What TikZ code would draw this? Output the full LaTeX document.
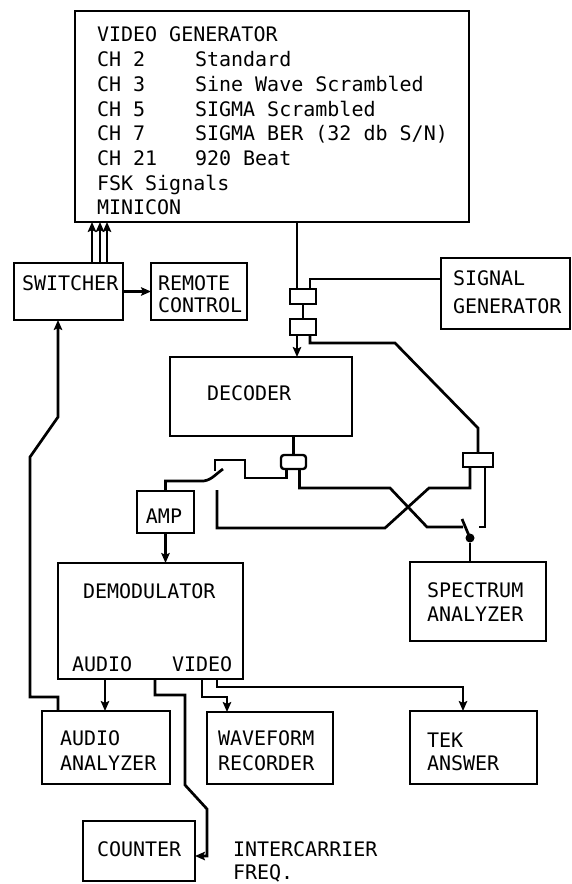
\documentclass[tikz,border=0pt]{standalone}
\usepackage{fontspec}
\setmonofont{DejaVu Sans Mono}
\usetikzlibrary{arrows.meta}

\begin{document}
\begin{tikzpicture}[
      x=1pt,
      y=-1pt,
      line width=2.7pt,
      >={Stealth[length=10pt,width=8.5pt,inset=2pt]},
      every node/.style={font=\ttfamily\fontsize{20}{24}\selectfont, inner sep=0pt, outer sep=0pt},
      unit/.style={draw, anchor=north west},
      coupler/.style={draw, anchor=north west, line width=2.4pt},
      txt/.style={anchor=west, align=left}
    ]

    \useasboundingbox (0,0) rectangle (572,884);

    % --- 1. boxes ---
    \node[unit, minimum width=394, minimum height=211] (vgen) at (75,11) {};
    \node[unit, minimum width=109, minimum height=57] (switcher) at (14,263) {};
    \node[unit, minimum width=96, minimum height=57] (remote) at (151,263) {};
    \node[unit, minimum width=129, minimum height=71] (siggen) at (441,258) {};
    \node[unit, minimum width=182, minimum height=79] (decoder) at (170,357) {};
    \node[unit, minimum width=57, minimum height=42] (amp) at (137,491) {};
    \node[unit, minimum width=185, minimum height=116] (demod) at (58,563) {};
    \node[unit, minimum width=136, minimum height=79] (specan) at (410,562) {};
    \node[unit, minimum width=128, minimum height=73] (audan) at (42,711) {};
    \node[unit, minimum width=126, minimum height=72] (wave) at (207,712) {};
    \node[unit, minimum width=127, minimum height=73] (tek) at (410,711) {};
    \node[unit, minimum width=112, minimum height=60] (counter) at (83,821) {};

    % couplers
    \node[coupler, minimum width=26, minimum height=15] (tapA) at (290,289) {};
    \node[coupler, minimum width=26, minimum height=16] (tapB) at (290,319) {};
    \node[coupler, minimum width=25, minimum height=14, rounded corners=3pt] (tapC) at (281,455) {};
    \node[coupler, minimum width=30, minimum height=14] (tapD) at (463,453) {};

    % --- 2. labels ---
    \node[anchor=base west] (vg-title) at (97,41) {VIDEO GENERATOR};
    \foreach \i/\ch/\desc in {1/CH 2/Standard, 2/CH 3/Sine Wave Scrambled,
        3/CH 5/SIGMA Scrambled, 4/CH 7/{SIGMA BER (32 db S/N)}, 5/CH 21/920 Beat} {
      \node[anchor=base west] (vg-ch\i) at (97, {42.3+24.6*\i}) {\ch};
      \node[anchor=base west] (vg-desc\i) at (195, {42.3+24.6*\i}) {\desc};
    }
    \node[anchor=base west] (vg-fsk) at (97,190) {FSK Signals};
    \node[anchor=base west] (vg-mini) at (97,214.5) {MINICON};

    \node[txt] (switcher-l) at (22,283) {SWITCHER};
    \node[txt] (remote-l) at (158,294) {REMOTE\\[-2pt]CONTROL};
    \node[txt] (siggen-l) at (453,292.5) {SIGNAL\\[4pt]GENERATOR};
    \node[txt] (decoder-l) at (207,393) {DECODER};
    \node (amp-l) at (164,516) {AMP};
    \node[txt] (demod-l) at (83,591) {DEMODULATOR};
    \node[txt] (audio-l) at (72,664) {AUDIO};
    \node[txt] (video-l) at (172,664) {VIDEO};
    \node[txt] (specan-l) at (427,602) {SPECTRUM\\ANALYZER};
    \node[txt] (audan-l) at (60,750.5) {AUDIO\\[1pt]ANALYZER};
    \node[txt] (wave-l) at (218,750.5) {WAVEFORM\\[1pt]RECORDER};
    \node[txt] (tek-l) at (427,751.5) {TEK\\[-1pt]ANSWER};
    \node[txt] (counter-l) at (97,849) {COUNTER};
    \node[txt] (icf-l) at (233,861.5) {INTERCARRIER\\[-1pt]FREQ.};

    % --- 3. switcher, remote control ---
    \foreach \dx [count=\k] in {78,86,93} {
      \coordinate (sw\k) at ([xshift=\dx pt]switcher.north west);
      \draw[->] (sw\k) -- (sw\k |- vgen.south);
    }
    \draw[->] (switcher.east) -- (remote.west);

    % --- 4. video and signal generator into the couplers ---
    \coordinate (a-in) at ([xshift=-6pt]tapA.north);
    \draw (vgen.south -| a-in) -- (a-in);
    \coordinate (a-sig) at ([xshift=7pt]tapA.north);
    \draw ([yshift=14.5pt]siggen.west) -| (a-sig);
    \draw (tapA.south) -- (tapB.north);
    \coordinate (b-out) at ([xshift=-6pt]tapB.south);
    \draw[->] (b-out) -- (b-out |- decoder.north);
    \draw ([xshift=7pt]tapB.south) -- ++(0,8) -- (395,343) -- (478,428) -- (tapD.north);

    % --- 5. decoder output and the two switches ---
    \draw (decoder.south -| tapC.north) -- (tapC.north);
    \draw ([xshift=-7pt]tapC.south) -- ++(0,9) -- (245,478) -- (245,460) -- (215,460) -- (215,471);
    \draw (amp.north) |- (200,481) to[out=-5, in=215] (223,469);
    \coordinate (amp-open) at (217,490);
    \draw ([xshift=-8pt]tapD.south) |- (429,488) -- (385,528) -| (amp-open);

    \node[circle, fill, minimum size=9] (pivot) at (470,538) {};
    \draw ([xshift=6pt]tapC.south) |- (390,488) -- (427,527) -- (463,527);
    \draw (pivot.center) -- (462,519);
    \draw ([xshift=7pt]tapD.south) |- (479,527);
    \draw (pivot) -- (pivot |- specan.north);

    % --- 6. amp, demodulator outputs ---
    \draw[->] (amp.south) -- (amp.south |- demod.north);

    \coordinate (aa-out) at ([xshift=16pt]audan.north west);
    \coordinate (sw-in) at ([xshift=44pt]switcher.south west);
    \draw[->] (aa-out) -- ++(0,-14) -- (30,697) -- (30,457) -- (58,417) -- (sw-in);

    \coordinate (d-aud) at ([xshift=47pt]demod.south west);
    \draw[->] (d-aud) -- (d-aud |- audan.north);

    \coordinate (d-ic) at ([xshift=97pt]demod.south west);
    \draw[->] (d-ic) |- (185,695) -- (185,785) -- (207,809) |- ([yshift=-5pt]counter.east);

    \coordinate (d-vid) at ([xshift=144pt]demod.south west);
    \coordinate (w-in) at ([xshift=20pt]wave.north west);
    \draw[->] (d-vid) -- ++(0,18) -| (w-in);

    \coordinate (d-tek) at ([xshift=159pt]demod.south west);
    \coordinate (t-in) at ([xshift=53pt]tek.north west);
    \draw[->] (d-tek) -- ++(0,8) -| (t-in);

  \end{tikzpicture}
\end{document}
